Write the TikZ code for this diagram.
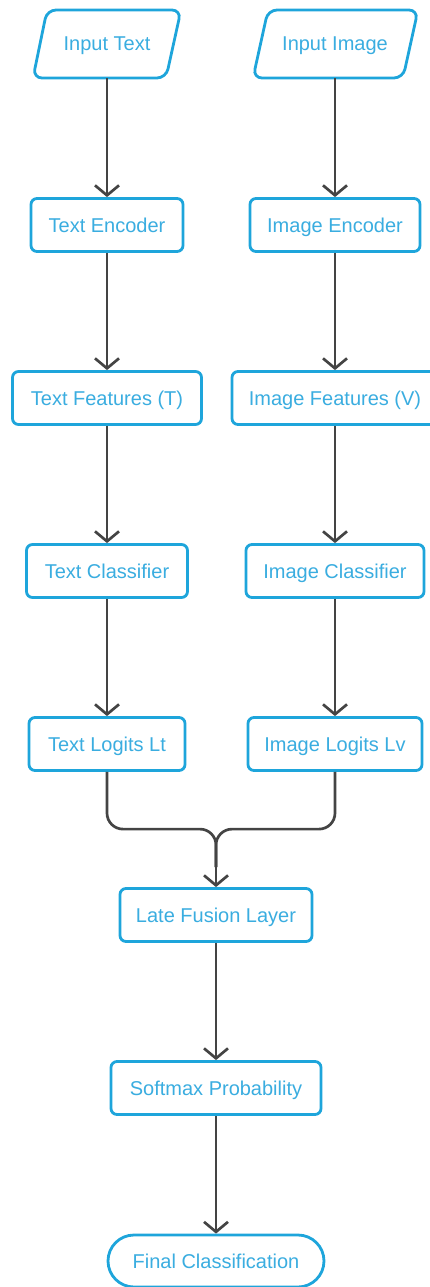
\documentclass[tikz,border=0pt]{standalone}
\usepackage{fontspec}
\setmainfont{Liberation Sans}
\usetikzlibrary{arrows.meta,calc}
\definecolor{boxblue}{HTML}{1EA5DB}
\definecolor{txtblue}{HTML}{3AADE0}
\definecolor{arrgray}{HTML}{444444}
\tikzset{
  base/.style={draw=boxblue, line width=2.8pt, fill=white, text=txtblue, font=\fontsize{20}{24}\selectfont, inner sep=0pt, text depth=0pt, align=center},
  procbox/.style={base, rectangle, rounded corners=6pt, minimum height=53pt},
  iotext/.style={text=txtblue, font=\fontsize{20}{24}\selectfont, inner sep=0pt, text depth=0pt, minimum height=68pt},
  ioframe/.style={draw=boxblue, line width=2.8pt, rounded corners=9pt},
  termbox/.style={base, rectangle, rounded corners=26pt, minimum height=52pt},
  arr/.style={draw=arrgray, line width=2.7pt, -{Straight Barb[length=10pt,width=24pt,line width=2.7pt]}},
  link/.style={draw=arrgray, line width=2.7pt, rounded corners=16pt}
}
\begin{document}
\begin{tikzpicture}[x=1pt,y=-1pt]
\useasboundingbox (0,0) rectangle (430,1287);
\node[iotext, minimum width=148pt] (it) at (107,44) {Input Text};
\draw[ioframe] (47,10) -- (181,10) -- (166,78) -- (33,78) -- cycle;
\node[iotext, minimum width=165pt] (ii) at (335,44) {Input Image};
\draw[ioframe] (268,10) -- (418,10) -- (403,78) -- (253,78) -- cycle;
\node[procbox, minimum width=152pt] (te) at (107,225) {Text Encoder};
\node[procbox, minimum width=170pt] (ie) at (335,225) {Image Encoder};
\node[procbox, minimum width=189pt] (tf) at (107,398) {Text Features (T)};
\node[procbox, minimum width=206pt] (if) at (335,398) {Image Features (V)};
\node[procbox, minimum width=161pt] (tc) at (107,571) {Text Classifier};
\node[procbox, minimum width=178pt] (ic) at (335,571) {Image Classifier};
\node[procbox, minimum width=156pt] (tl) at (107,744) {Text Logits Lt};
\node[procbox, minimum width=174pt] (il) at (335,744) {Image Logits Lv};
\node[procbox, minimum width=192pt] (lf) at (216,915) {Late Fusion Layer};
\node[procbox, minimum width=210pt] (sp) at (216,1088) {Softmax Probability};
\node[termbox, minimum width=216pt] (fc) at (216,1261) {Final Classification};
\draw[arr] (it.south) -- (te.north);
\draw[arr] (ii.south) -- (ie.north);
\draw[arr] (te.south) -- (tf.north);
\draw[arr] (ie.south) -- (if.north);
\draw[arr] (tf.south) -- (tc.north);
\draw[arr] (if.south) -- (ic.north);
\draw[arr] (tc.south) -- (tl.north);
\draw[arr] (ic.south) -- (il.north);
\coordinate (mj) at ($(lf.north)+(0,-58)$);
\draw[link] (tl.south) |- (mj) -- ($(lf.north)+(0,-20)$);
\draw[link] (il.south) |- (mj) -- ($(lf.north)+(0,-20)$);
\draw[arr] ($(lf.north)+(0,-30)$) -- (lf.north);
\draw[arr] (lf.south) -- (sp.north);
\draw[arr] (sp.south) -- (fc.north);
\end{tikzpicture}
\end{document}
